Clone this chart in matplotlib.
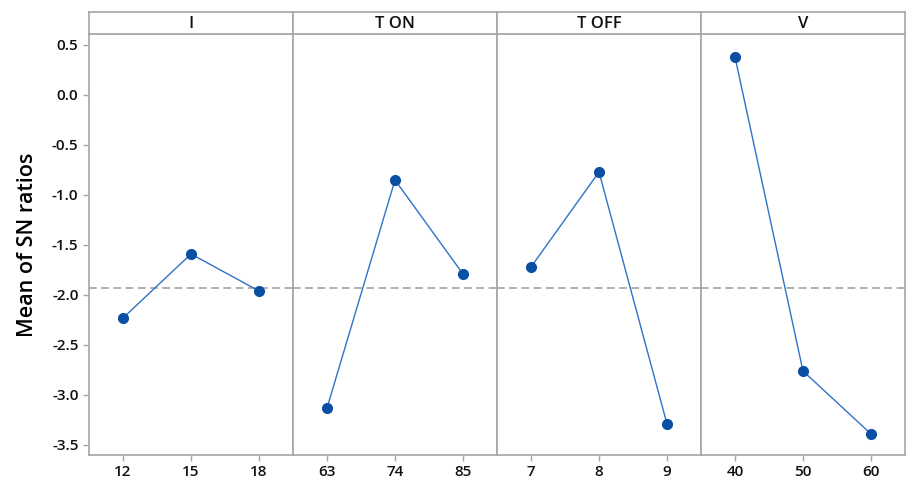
import matplotlib.pyplot as plt

plt.rcParams['font.family'] = ['Open Sans', 'DejaVu Sans']

# factors and their levels
factors = ['I', 'T ON', 'T OFF', 'V']
levels = [['12', '15', '18'], ['63', '74', '85'], ['7', '8', '9'], ['40', '50', '60']]

# mean of SN ratios for each level
sn_I = [-2.23, -1.59, -1.96]
sn_ton = [-3.13, -0.85, -1.79]
sn_toff = [-1.72, -0.77, -3.29]
sn_v = [0.38, -2.76, -3.39]
means = [sn_I, sn_ton, sn_toff, sn_v]

grand_mean = -1.93
yticks = [0.5, 0.0, -0.5, -1.0, -1.5, -2.0, -2.5, -3.0, -3.5]

grey = '#a6a6a6'
fig = plt.figure(figsize=(9.09, 4.82), dpi=100)

left = 89 / 909
w = 204 / 909
bottom = 1 - 455 / 482
top = 1 - 34 / 482
htop = 1 - 12 / 482

for i, (name, lv, vals) in enumerate(zip(factors, levels, means)):
    ax = fig.add_axes([left + i * w, bottom, w, top - bottom])
    x = list(range(len(lv)))
    ax.axhline(grand_mean, color='#9a9a9a', lw=1.1, ls=(0, (5, 3)), zorder=1)
    ax.plot(x, vals, color='#2f72c8', lw=1.0, zorder=2)
    ax.plot(x, vals, 'o', color='#0a4fa3', ms=7, zorder=3)
    ax.set_xlim(-0.5, 2.5)
    ax.set_ylim(-3.6, 0.61)
    ax.set_xticks(x)
    ax.set_xticklabels(lv, fontsize=11, fontweight='semibold')
    ax.set_yticks(yticks)
    for s in ax.spines.values():
        s.set_color(grey)
        s.set_linewidth(1.2)
    ax.tick_params(colors=grey, labelcolor='#111111', length=4, width=1)
    if i == 0:
        ax.set_yticklabels(['%.1f' % t for t in yticks], fontsize=11,
                           fontweight='semibold')
        ax.set_ylabel('Mean of SN ratios', fontsize=15.5, fontweight='semibold',
                      labelpad=10)
    else:
        ax.tick_params(axis='y', left=False, labelleft=False)

    # header strip with factor name
    hx = fig.add_axes([left + i * w, top, w, htop - top])
    hx.set_xticks([])
    hx.set_yticks([])
    for s in hx.spines.values():
        s.set_color(grey)
        s.set_linewidth(1.2)
    hx.text(0.5, 0.45, name, ha='center', va='center', fontsize=12,
            fontweight='semibold', color='#111111', transform=hx.transAxes)

fig.savefig('out.png', dpi=100)
